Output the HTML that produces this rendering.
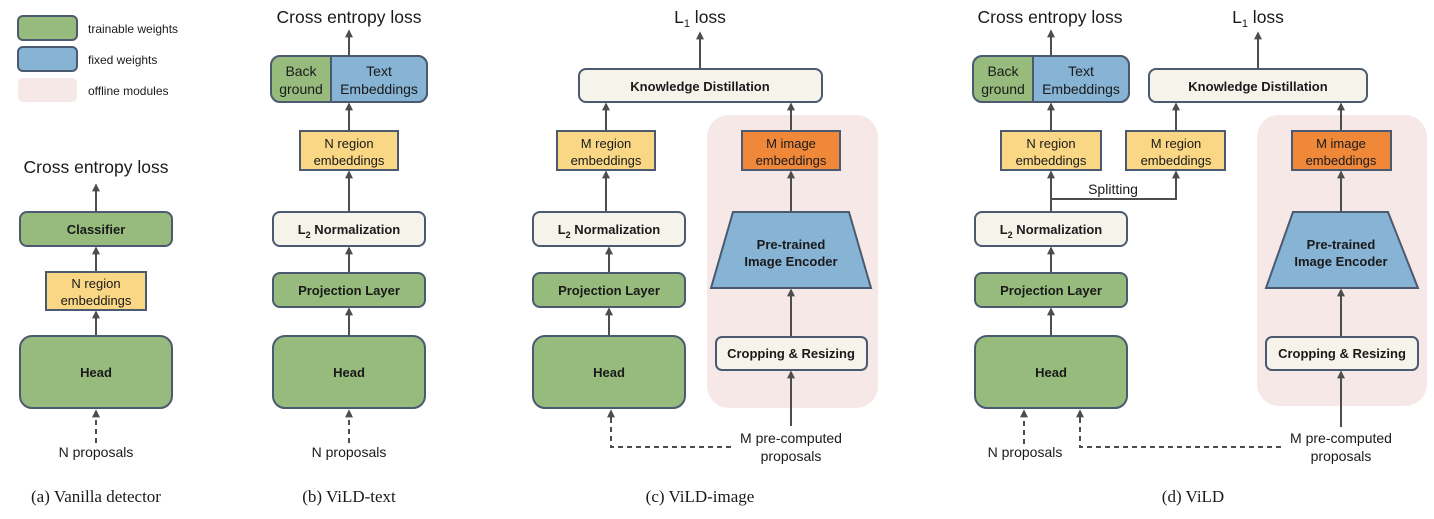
<!DOCTYPE html>
<html><head><meta charset="utf-8"><style>
html,body{margin:0;padding:0;background:#fff;}
svg{display:block;}
.b{font-family:"Liberation Sans",sans-serif;font-weight:bold;font-size:13px;fill:#1a1a1a;text-anchor:middle;}
.t{font-family:"Liberation Sans",sans-serif;font-size:17.5px;fill:#1a1a1a;text-anchor:middle;}
.s{font-family:"Liberation Sans",sans-serif;font-size:14px;fill:#1a1a1a;text-anchor:middle;}
.l{font-family:"Liberation Sans",sans-serif;font-size:12px;fill:#1a1a1a;}
.c{font-family:"Liberation Serif",serif;font-size:17px;fill:#1a1a1a;text-anchor:middle;}
.g{fill:#96bb7c;stroke:#4b5a70;stroke-width:2;}
.bl{fill:#87b3d4;stroke:#4b5a70;stroke-width:2;}
.y{fill:#fad784;stroke:#4b5a70;stroke-width:2;}
.o{fill:#f0883a;stroke:#4b5a70;stroke-width:2;}
.w{fill:#f6f3ea;stroke:#4b5a70;stroke-width:2;}
.a{stroke:#4d4d4d;stroke-width:2;fill:none;marker-end:url(#m);}
.d{stroke:#4d4d4d;stroke-width:2;fill:none;stroke-dasharray:5,4;}
.da{stroke:#4d4d4d;stroke-width:2;fill:none;stroke-dasharray:5,4;marker-end:url(#m);}
</style></head><body>
<svg width="1434" height="519" viewBox="0 0 1434 519" xmlns="http://www.w3.org/2000/svg">
<defs><marker id="m" viewBox="0 0 10 10" refX="8" refY="5" markerWidth="4" markerHeight="4" orient="auto"><path d="M0,0 L10,5 L0,10 z" fill="#4d4d4d"/></marker></defs>

<!-- legend -->
<rect class="g" x="18" y="16" width="59" height="24" rx="5"/>
<text class="l" x="88" y="33">trainable weights</text>
<rect class="bl" x="18" y="47" width="59" height="24" rx="5"/>
<text class="l" x="88" y="64">fixed weights</text>
<rect x="18" y="78" width="59" height="24" rx="5" fill="#f5e8e6"/>
<text class="l" x="88" y="95">offline modules</text>

<!-- (a) -->
<text class="t" x="96" y="173">Cross entropy loss</text>
<line class="a" x1="96" y1="212" x2="96" y2="185"/>
<rect class="g" x="20" y="212" width="152" height="34" rx="7"/>
<text class="b" x="96" y="234">Classifier</text>
<line class="a" x1="96" y1="271" x2="96" y2="248"/>
<rect class="y" x="46" y="272" width="100" height="38"/>
<text class="s" x="96" y="288" style="font-size:13px">N region</text>
<text class="s" x="96" y="305" style="font-size:13px">embeddings</text>
<line class="a" x1="96" y1="336" x2="96" y2="312"/>
<rect class="g" x="20" y="336" width="152" height="72" rx="12"/>
<text class="b" x="96" y="377">Head</text>
<line class="da" x1="96" y1="443" x2="96" y2="411"/>
<text class="s" x="96" y="457">N proposals</text>
<text class="c" x="96" y="502">(a) Vanilla detector</text>

<!-- (b) -->
<text class="t" x="349" y="23">Cross entropy loss</text>
<line class="a" x1="349" y1="56" x2="349" y2="31"/>
<rect class="g" x="271" y="56" width="156" height="46" rx="9"/>
<path class="bl" d="M331,56 H418 A9,9 0 0 1 427,65 V93 A9,9 0 0 1 418,102 H331 Z"/>
<text class="b" x="301" y="76" style="font-weight:normal;font-size:14px">Back</text>
<text class="b" x="301" y="94" style="font-weight:normal;font-size:14px">ground</text>
<text class="b" x="379" y="76" style="font-weight:normal;font-size:14px">Text</text>
<text class="b" x="379" y="94" style="font-weight:normal;font-size:14px">Embeddings</text>
<line class="a" x1="349" y1="131" x2="349" y2="104"/>
<rect class="y" x="300" y="131" width="98" height="39"/>
<text class="s" x="349" y="148" style="font-size:13px">N region</text>
<text class="s" x="349" y="165" style="font-size:13px">embeddings</text>
<line class="a" x1="349" y1="212" x2="349" y2="172"/>
<rect class="w" x="273" y="212" width="152" height="34" rx="7"/>
<text class="b" x="349" y="234">L<tspan dy="4" font-size="9">2</tspan><tspan dy="-4"> Normalization</tspan></text>
<line class="a" x1="349" y1="273" x2="349" y2="248"/>
<rect class="g" x="273" y="273" width="152" height="34" rx="7"/>
<text class="b" x="349" y="295">Projection Layer</text>
<line class="a" x1="349" y1="336" x2="349" y2="309"/>
<rect class="g" x="273" y="336" width="152" height="72" rx="12"/>
<text class="b" x="349" y="377">Head</text>
<line class="da" x1="349" y1="443" x2="349" y2="411"/>
<text class="s" x="349" y="457">N proposals</text>
<text class="c" x="349" y="502">(b) ViLD-text</text>

<!-- (c) -->
<rect x="707" y="115" width="171" height="293" rx="22" fill="#f5e8e6"/>
<text class="t" x="700" y="23">L<tspan dy="4" font-size="11">1</tspan><tspan dy="-4"> loss</tspan></text>
<line class="a" x1="700" y1="69" x2="700" y2="33"/>
<rect class="w" x="579" y="69" width="243" height="33" rx="7"/>
<text class="b" x="700" y="91">Knowledge Distillation</text>
<line class="a" x1="606" y1="131" x2="606" y2="104"/>
<line class="a" x1="791" y1="131" x2="791" y2="104"/>
<rect class="y" x="557" y="131" width="98" height="39"/>
<text class="s" x="606" y="148" style="font-size:13px">M region</text>
<text class="s" x="606" y="165" style="font-size:13px">embeddings</text>
<rect class="o" x="742" y="131" width="98" height="39"/>
<text class="s" x="791" y="148" style="font-size:13px">M image</text>
<text class="s" x="791" y="165" style="font-size:13px">embeddings</text>
<line class="a" x1="606" y1="212" x2="606" y2="172"/>
<rect class="w" x="533" y="212" width="152" height="34" rx="7"/>
<text class="b" x="609" y="234">L<tspan dy="4" font-size="9">2</tspan><tspan dy="-4"> Normalization</tspan></text>
<line class="a" x1="609" y1="273" x2="609" y2="248"/>
<rect class="g" x="533" y="273" width="152" height="34" rx="7"/>
<text class="b" x="609" y="295">Projection Layer</text>
<line class="a" x1="609" y1="336" x2="609" y2="309"/>
<rect class="g" x="533" y="336" width="152" height="72" rx="12"/>
<text class="b" x="609" y="377">Head</text>
<line class="a" x1="791" y1="212" x2="791" y2="172"/>
<polygon class="bl" points="733,212 849,212 871,288 711,288"/>
<text class="b" x="791" y="249">Pre-trained</text>
<text class="b" x="791" y="266">Image Encoder</text>
<line class="a" x1="791" y1="337" x2="791" y2="290"/>
<rect class="w" x="716" y="337" width="151" height="33" rx="6"/>
<text class="b" x="791" y="358">Cropping &amp; Resizing</text>
<line class="a" x1="791" y1="426" x2="791" y2="372"/>
<text class="s" x="791" y="443">M pre-computed</text>
<text class="s" x="791" y="461">proposals</text>
<polyline class="d" points="731,447 611,447 611,420"/>
<line class="a" x1="611" y1="422" x2="611" y2="411"/>
<text class="c" x="700" y="502">(c) ViLD-image</text>

<!-- (d) -->
<rect x="1257" y="115" width="170" height="291" rx="22" fill="#f5e8e6"/>
<text class="t" x="1050" y="23">Cross entropy loss</text>
<line class="a" x1="1051" y1="56" x2="1051" y2="31"/>
<rect class="g" x="973" y="56" width="156" height="46" rx="9"/>
<path class="bl" d="M1033,56 H1120 A9,9 0 0 1 1129,65 V93 A9,9 0 0 1 1120,102 H1033 Z"/>
<text class="b" x="1003" y="76" style="font-weight:normal;font-size:14px">Back</text>
<text class="b" x="1003" y="94" style="font-weight:normal;font-size:14px">ground</text>
<text class="b" x="1081" y="76" style="font-weight:normal;font-size:14px">Text</text>
<text class="b" x="1081" y="94" style="font-weight:normal;font-size:14px">Embeddings</text>
<text class="t" x="1258" y="23">L<tspan dy="4" font-size="11">1</tspan><tspan dy="-4"> loss</tspan></text>
<line class="a" x1="1258" y1="69" x2="1258" y2="33"/>
<rect class="w" x="1149" y="69" width="218" height="33" rx="7"/>
<text class="b" x="1258" y="91">Knowledge Distillation</text>
<line class="a" x1="1051" y1="131" x2="1051" y2="104"/>
<line class="a" x1="1176" y1="131" x2="1176" y2="104"/>
<line class="a" x1="1341" y1="131" x2="1341" y2="104"/>
<rect class="y" x="1001" y="131" width="100" height="39"/>
<text class="s" x="1051" y="148" style="font-size:13px">N region</text>
<text class="s" x="1051" y="165" style="font-size:13px">embeddings</text>
<rect class="y" x="1126" y="131" width="99" height="39"/>
<text class="s" x="1176" y="148" style="font-size:13px">M region</text>
<text class="s" x="1176" y="165" style="font-size:13px">embeddings</text>
<rect class="o" x="1292" y="131" width="99" height="39"/>
<text class="s" x="1341" y="148" style="font-size:13px">M image</text>
<text class="s" x="1341" y="165" style="font-size:13px">embeddings</text>
<line class="a" x1="1051" y1="212" x2="1051" y2="172"/>
<polyline class="a" points="1051,199 1176,199 1176,172"/>
<text class="s" x="1113" y="194">Splitting</text>
<rect class="w" x="975" y="212" width="152" height="34" rx="7"/>
<text class="b" x="1051" y="234">L<tspan dy="4" font-size="9">2</tspan><tspan dy="-4"> Normalization</tspan></text>
<line class="a" x1="1051" y1="273" x2="1051" y2="248"/>
<rect class="g" x="975" y="273" width="152" height="34" rx="7"/>
<text class="b" x="1051" y="295">Projection Layer</text>
<line class="a" x1="1051" y1="336" x2="1051" y2="309"/>
<rect class="g" x="975" y="336" width="152" height="72" rx="12"/>
<text class="b" x="1051" y="377">Head</text>
<line class="a" x1="1341" y1="212" x2="1341" y2="172"/>
<polygon class="bl" points="1293,212 1388,212 1418,288 1266,288"/>
<text class="b" x="1341" y="249">Pre-trained</text>
<text class="b" x="1341" y="266">Image Encoder</text>
<line class="a" x1="1341" y1="337" x2="1341" y2="290"/>
<rect class="w" x="1266" y="337" width="152" height="33" rx="6"/>
<text class="b" x="1342" y="358">Cropping &amp; Resizing</text>
<line class="a" x1="1341" y1="427" x2="1341" y2="372"/>
<text class="s" x="1341" y="443">M pre-computed</text>
<text class="s" x="1341" y="461">proposals</text>
<line class="da" x1="1024" y1="444" x2="1024" y2="411"/>
<text class="s" x="1025" y="457">N proposals</text>
<polyline class="d" points="1281,447 1080,447 1080,420"/>
<line class="a" x1="1080" y1="422" x2="1080" y2="411"/>
<text class="c" x="1193" y="502">(d) ViLD</text>
</svg>
</body></html>
